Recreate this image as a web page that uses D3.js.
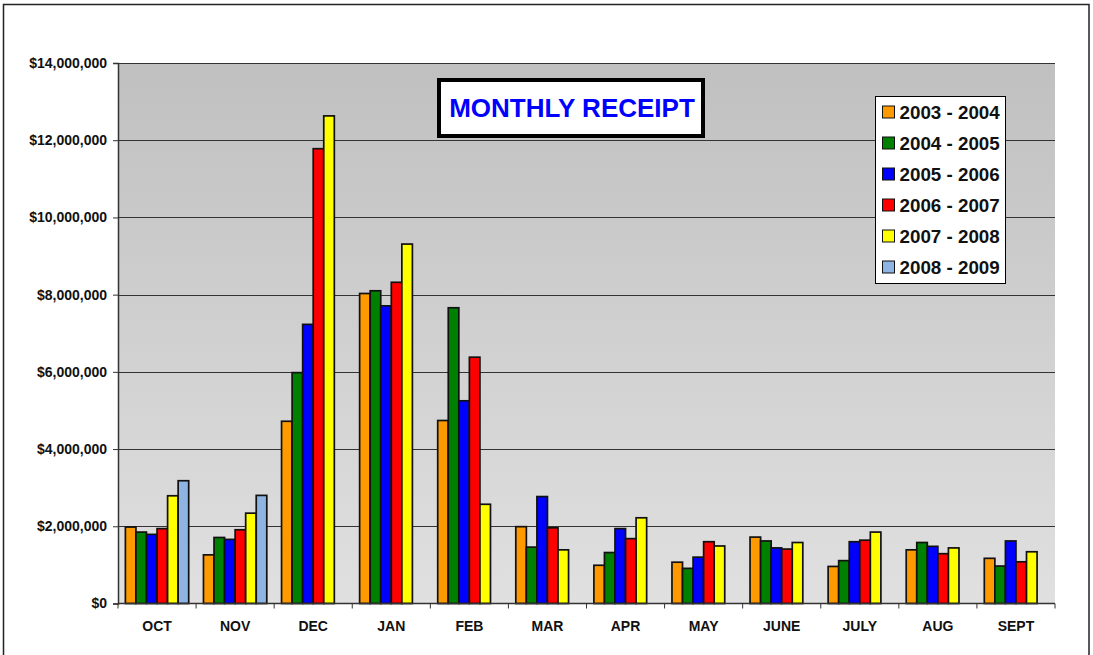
<!DOCTYPE html>
<html>
<head>
<meta charset="utf-8">
<script src="https://cdn.jsdelivr.net/npm/d3@7"></script>
<style>
  html, body { margin: 0; padding: 0; background: #fff; }
  svg { display: block; font-family: "Liberation Sans", Arial, sans-serif; }
</style>
</head>
<body>
<div id="chart"></div>
<script>
// months of the fiscal year
var months = ["OCT", "NOV", "DEC", "JAN", "FEB", "MAR", "APR", "MAY", "JUNE", "JULY", "AUG", "SEPT"];
var seasons = ["2003 - 2004", "2004 - 2005", "2005 - 2006", "2006 - 2007", "2007 - 2008", "2008 - 2009"];
var colors = ["#ff9900", "#008000", "#0000ff", "#ff0000", "#ffff00", "#8db4e2"];

// receipts (dollars)
var fy0304 = [1980000, 1260000, 4720000, 8030000, 4740000, 1990000, 990000, 1070000, 1720000, 960000, 1390000, 1170000];
var fy0405 = [1850000, 1710000, 5980000, 8100000, 7660000, 1460000, 1320000, 910000, 1620000, 1110000, 1580000, 970000];
var fy0506 = [1790000, 1660000, 7230000, 7710000, 5250000, 2770000, 1940000, 1200000, 1440000, 1600000, 1480000, 1620000];
var fy0607 = [1940000, 1910000, 11780000, 8320000, 6380000, 1960000, 1680000, 1600000, 1410000, 1640000, 1290000, 1080000];
var fy0708 = [2790000, 2340000, 12630000, 9310000, 2570000, 1390000, 2220000, 1490000, 1580000, 1850000, 1440000, 1340000];
var fy0809 = [3180000, 2800000, null, null, null, null, null, null, null, null, null, null];
var seriesValues = [fy0304, fy0405, fy0506, fy0607, fy0708, fy0809];

var yTicks = [0, 2000000, 4000000, 6000000, 8000000, 10000000, 12000000, 14000000];

var width = 1093, height = 655;
var margin = { top: 63, right: 38, bottom: 51.5, left: 118 };

var svg = d3.select("#chart").append("svg")
  .attr("width", width)
  .attr("height", height);

// outer frame
svg.append("rect")
  .attr("x", 3.5).attr("y", 4.5)
  .attr("width", 1085.5).attr("height", 660)
  .attr("fill", "#fff")
  .attr("stroke", "#222").attr("stroke-width", 1.5);

var defs = svg.append("defs");
var grad = defs.append("linearGradient")
  .attr("id", "plotbg").attr("x1", 0).attr("y1", 0).attr("x2", 0).attr("y2", 1);
grad.append("stop").attr("offset", "0%").attr("stop-color", "#c0c0c0");
grad.append("stop").attr("offset", "100%").attr("stop-color", "#e0e0e0");

var x0 = d3.scaleBand()
  .domain(months)
  .range([margin.left, width - margin.right])
  .padding(0);

var x1 = d3.scaleBand()
  .domain(d3.range(seasons.length))
  .range([0, x0.bandwidth()])
  .paddingInner(0)
  .paddingOuter(0.7);

var y = d3.scaleLinear()
  .domain([0, 14000000])
  .range([height - margin.bottom, margin.top]);

// plot area
svg.append("rect")
  .attr("x", margin.left).attr("y", margin.top)
  .attr("width", width - margin.right - margin.left)
  .attr("height", y(0) - margin.top)
  .attr("fill", "url(#plotbg)");

// gridlines
svg.append("g")
  .selectAll("line")
  .data(yTicks.slice(1))
  .enter().append("line")
  .attr("x1", margin.left).attr("x2", width - margin.right)
  .attr("y1", function (d) { return Math.round(y(d)) + 0.5; })
  .attr("y2", function (d) { return Math.round(y(d)) + 0.5; })
  .attr("stroke", "#333").attr("stroke-width", 1);

// bars
var groups = svg.append("g")
  .selectAll("g")
  .data(months)
  .enter().append("g")
  .attr("transform", function (d) { return "translate(" + x0(d) + ",0)"; });

groups.selectAll("rect")
  .data(function (m, i) {
    return seriesValues.map(function (s, k) { return { k: k, v: s[i] }; })
      .filter(function (d) { return d.v != null; });
  })
  .enter().append("rect")
  .attr("x", function (d) { return x1(d.k); })
  .attr("width", x1.bandwidth())
  .attr("y", function (d) { return y(d.v); })
  .attr("height", function (d) { return y(0) - y(d.v); })
  .attr("fill", function (d) { return colors[d.k]; })
  .attr("stroke", "#111").attr("stroke-width", 1.7);

// y axis
var yAxis = d3.axisLeft(y)
  .tickValues(yTicks)
  .tickSize(5)
  .tickPadding(6)
  .tickFormat(function (d) { return "$" + d3.format(",")(d); });

var gy = svg.append("g")
  .attr("transform", "translate(" + margin.left + ",0)")
  .call(yAxis);
gy.select(".domain").attr("stroke", "#333").attr("stroke-width", 1.5);
gy.selectAll(".tick line").attr("stroke", "#333");
gy.selectAll("text")
  .attr("font-size", 14).attr("font-weight", "bold")
  .attr("fill", "#111")
  .style("font-family", "'Liberation Sans', Arial, sans-serif");

// x axis: ticks between categories
var gx = svg.append("g")
  .attr("transform", "translate(0," + y(0) + ")");
gx.append("line")
  .attr("x1", margin.left).attr("x2", width - margin.right)
  .attr("stroke", "#333").attr("stroke-width", 1.5);
gx.selectAll("line.tk")
  .data(months.concat(["end"]))
  .enter().append("line")
  .attr("class", "tk")
  .attr("x1", function (d, i) { return margin.left + i * x0.step(); })
  .attr("x2", function (d, i) { return margin.left + i * x0.step(); })
  .attr("y1", 0).attr("y2", 5)
  .attr("stroke", "#333");
gx.selectAll("text")
  .data(months)
  .enter().append("text")
  .attr("x", function (d) { return x0(d) + x0.bandwidth() / 2; })
  .attr("y", 27.5)
  .attr("text-anchor", "middle")
  .attr("font-size", 14).attr("font-weight", "bold")
  .attr("fill", "#111")
  .text(function (d) { return d; });

// title box
svg.append("rect")
  .attr("x", 439).attr("y", 80)
  .attr("width", 264).attr("height", 56)
  .attr("fill", "#fff")
  .attr("stroke", "#000").attr("stroke-width", 4);
svg.append("text")
  .attr("x", 572).attr("y", 117)
  .attr("text-anchor", "middle")
  .attr("font-size", 26).attr("font-weight", "bold")
  .attr("fill", "#0000ff")
  .text("MONTHLY RECEIPT");

// legend
var legend = svg.append("g").attr("transform", "translate(875.5,96.5)");
legend.append("rect")
  .attr("width", 130).attr("height", 187)
  .attr("fill", "#fff")
  .attr("stroke", "#000").attr("stroke-width", 1);
var items = legend.selectAll("g.item")
  .data(seasons)
  .enter().append("g")
  .attr("class", "item")
  .attr("transform", function (d, i) { return "translate(0," + (15.5 + i * 31) + ")"; });
items.append("rect")
  .attr("x", 7).attr("y", -6)
  .attr("width", 12).attr("height", 12)
  .attr("fill", function (d, i) { return colors[i]; })
  .attr("stroke", "#111").attr("stroke-width", 1);
items.append("text")
  .attr("x", 24).attr("y", 7)
  .attr("font-size", 18.8).attr("font-weight", "bold")
  .attr("fill", "#111")
  .text(function (d) { return d; });
</script>
</body>
</html>
